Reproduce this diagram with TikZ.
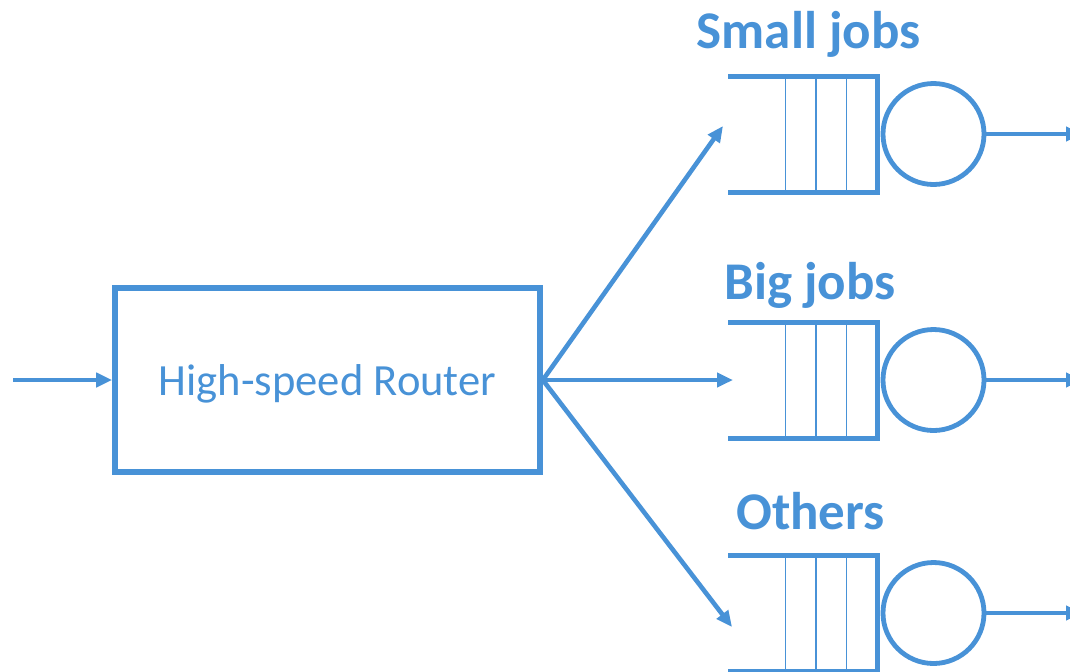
\documentclass[tikz,border=0pt]{standalone}
\usepackage{fontspec}
\setmainfont{Carlito}
\usetikzlibrary{arrows.meta,positioning}
\definecolor{qblue}{RGB}{72,146,215}
\tikzset{
    %Define standard arrow tip
    >={Triangle[length=8pt,width=7pt]},
    %Define style for the router box
    router/.style={
      rectangle,
      draw=qblue, line width=2.8pt,
      minimum width=212.5pt,
      minimum height=92pt,
      text=qblue,
      text depth=0pt,
      font=\fontsize{22.3}{26}\selectfont},
    % Define style for queue buffers (walls drawn by hand)
    buffer/.style={
      rectangle,
      minimum width=74.5pt,
      minimum height=58pt,
      inner sep=0pt, outer sep=0pt},
    server/.style={
      circle,
      draw=qblue, line width=2.4pt,
      minimum size=50.5pt,
      inner sep=0pt, outer sep=0pt},
    tag/.style={
      text=qblue,
      inner sep=0pt,
      anchor=base,
      font=\fontsize{26.5}{30}\selectfont\bfseries},
    wall/.style={draw=qblue, line width=2.5pt},
    slot/.style={draw=qblue, line width=0.7pt},
    % Define arrow style
    arr/.style={
      ->,
      draw=qblue, fill=qblue,
      line width=2.3pt}
}
\begin{document}
\begin{tikzpicture}[x=0.5pt, y=-0.5pt]
    \useasboundingbox (0,0) rectangle (1070,671);

    \coordinate (src) at (13,380);
    \node[router] (router) at (327.5,380) {High-speed Router};

    \node[buffer] (q1) at (802.5,134) {};
    \node[buffer] (q2) at (802.5,380) {};
    \node[buffer] (q3) at (802.5,613) {};

    \node[server, right=3pt of q1] (s1) {};
    \node[server, right=3pt of q2] (s2) {};
    \node[server, right=3pt of q3] (s3) {};

    \node[tag] (small) at ([xshift=3pt, yshift=14pt]q1.north) {Small jobs};
    \node[tag] (big) at ([xshift=3.75pt, yshift=11.5pt]q2.north) {Big jobs};
    \node[tag] (others) at ([xshift=4pt, yshift=13pt]q3.north) {Others};

    \foreach \q in {q1,q2,q3} {
      \draw[wall] (\q.north west) -- (\q.north east)
        -- (\q.south east) -- (\q.south west);
      \foreach \i in {1,2,3}
        \draw[slot] ([xshift=-\i*15.25pt]\q.north east)
          -- ([xshift=-\i*15.25pt]\q.south east);
    }

    \coordinate (in1) at (723,126);
    \coordinate (in2) at (733,380);
    \coordinate (in3) at (732,627);
    \coordinate (out1) at (1082,134);
    \coordinate (out2) at (1082,380);
    \coordinate (out3) at (1082,613);

    \draw[arr] (src) -- (router.west);
    \draw[arr] (router.east) -- (in1);
    \draw[arr] (router.east) -- (in2);
    \draw[arr] (router.east) -- (in3);
    \draw[arr] (s1.east) -- (out1);
    \draw[arr] (s2.east) -- (out2);
    \draw[arr] (s3.east) -- (out3);
\end{tikzpicture}
\end{document}
